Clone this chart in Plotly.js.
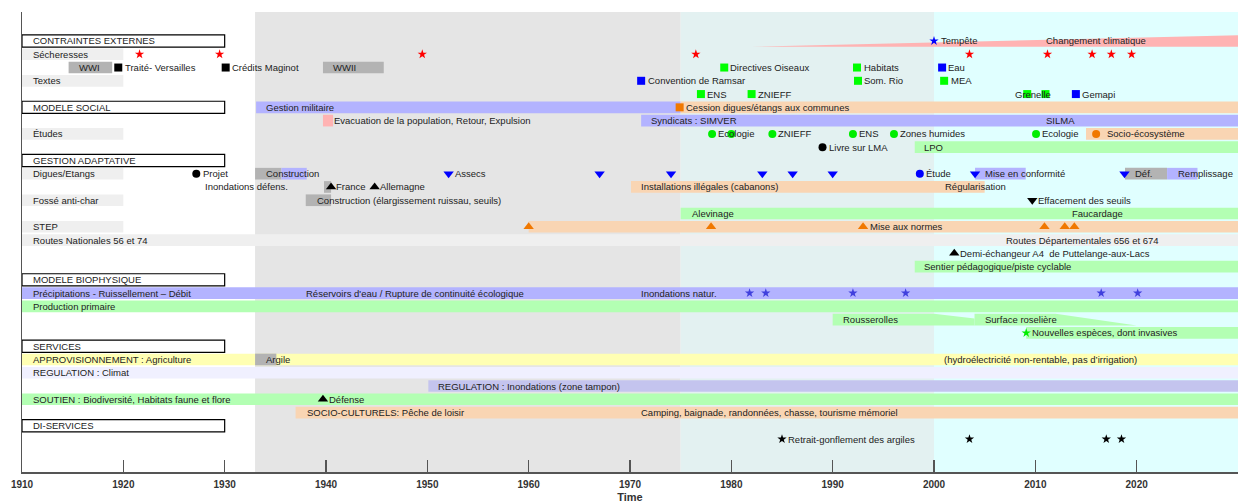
<!DOCTYPE html>
<html><head><meta charset="utf-8">
<script src="https://cdn.plot.ly/plotly-3.0.1.min.js"></script>
<style>html,body{margin:0;padding:0;background:#fff}#chart{width:1245px;height:503px}</style>
</head><body><div id="chart"></div>
<script>
// ================= DATA =================
// background periods
const periodStarts = [1933, 1975, 2000];
const periodEnds   = [1975, 2000, 2030];
const periodKinds  = ['militaire', 'transition', 'recent'];

// section header rows
const sectionRows  = [1, 6, 10, 19, 24, 30];
const sectionStart = 1910;
const sectionEnd   = 1930;

// bars: row, start year, end year, kind
const barRows   = [2, 4, 8, 11, 13, 15,
  3, 3, 6, 6, 7, 7, 8, 9, 11, 11, 11, 11, 11, 12, 12, 13, 14, 15, 16, 18, 20, 21, 23, 25, 25, 26, 27, 28, 29];
const barStarts = [1910, 1910, 1910, 1910, 1910, 1910,
  1914.6, 1939.7, 1933.1, 1975, 1939.7, 1971.1, 2015, 1998.1, 1933, 1935.6, 2004.05, 2018.85, 2023, 1939.8, 1970.1, 1938, 1975, 1960, 1910, 1998.1, 1910, 1910, 2009.1, 1910, 1933, 1910, 1950.1, 1910, 1937];
const barEnds   = [1920, 1920, 1920, 1920, 1920, 1920,
  1918.9, 1945.7, 1975, 2030, 1940.7, 2030, 2030, 2030, 1935.6, 1938.1, 2009.05, 2023, 2026, 1940.5, 2005, 1940.5, 2030, 2030, 2030, 2030, 2030, 2030, 2030, 2030, 1935.1, 2030, 2030, 2030, 2030];
const barKinds  = ['etiquette', 'etiquette', 'etiquette', 'etiquette', 'etiquette', 'etiquette',
  'guerre', 'guerre', 'gestion', 'social', 'evacuation', 'gestion', 'social', 'nature', 'guerre', 'gestion', 'gestion', 'guerre', 'gestion', 'guerre', 'social', 'guerre', 'nature', 'social', 'etiquette', 'nature', 'gestion', 'nature', 'nature', 'appro', 'guerre', 'climat', 'regulation', 'nature', 'social'];

// trend shapes (level 1 = full band, 0 = bottom of band)
const climatRow = 1;
const climatYears = [1982, 2030, 2030];
const climatLevel = [0, 0, 1];
const rousserollesRow = 22;
const rousserollesYears = [1990, 2000, 2004, 2004, 1990];
const rousserollesLevel = [1, 1, 0.6, 0, 0];
const roseliereYears = [2004, 2012, 2020, 2004];
const roseliereLevel = [1, 1, 0, 0];

// point events: row, year, kind
const eventRows  = [1,
  2, 2, 2, 2, 2, 2, 2, 2, 2,
  3, 3, 3, 3, 3,
  4, 4, 4,
  5, 5, 5, 5, 5,
  6,
  8, 8, 8, 8, 8, 8, 8,
  9,
  11, 11, 11, 11, 11, 11, 11, 11, 11, 11,
  12, 12,
  13,
  15, 15, 15, 15, 15, 15,
  17,
  20, 20, 20, 20, 20, 20,
  23,
  28,
  31, 31, 31, 31];
const eventYears = [2000,
  1921.6, 1929.5, 1949.5, 1976.5, 2003.5, 2011.2, 2015.6, 2017.5, 2019.5,
  1919.5, 1930.1, 1979.3, 1992.4, 2000.8,
  1971.1, 1992.5, 2001.0,
  1977.0, 1982.0, 2009.2, 2011.0, 2014.0,
  1974.9,
  1978.1, 1980.0, 1984.05, 1992.0, 1996.05, 2010.07, 2016.0,
  1989.0,
  1927.2, 1952.1, 1967.0, 1974.05, 1983.06, 1986.05, 1990.0, 1998.6, 2004.05, 2018.8,
  1940.5, 1944.8,
  2009.7,
  1960.0, 1978.0, 1993.0, 2010.9, 2012.9, 2013.85,
  2002.0,
  1981.8, 1983.4, 1992.0, 1997.2, 2016.5, 2020.1,
  2009.1,
  1939.7,
  1985.0, 2003.5, 2017.0, 2018.5];
const eventKinds = ['tempete',
  'secheresse', 'secheresse', 'secheresse', 'secheresse', 'secheresse', 'secheresse', 'secheresse', 'secheresse', 'secheresse',
  'texteHist', 'texteHist', 'texteEnv', 'texteEnv', 'texteEau',
  'texteEau', 'texteEnv', 'texteEnv',
  'texteEnv', 'texteEnv', 'texteEnv', 'texteEnv', 'texteEau',
  'cession',
  'etude', 'etude', 'etude', 'etude', 'etude', 'etude', 'etudeSocio',
  'livre',
  'projet', 'assec', 'assec', 'assec', 'assec', 'assec', 'assec', 'etudeDigue', 'assec', 'assec',
  'militaire', 'militaire',
  'effacement',
  'step', 'step', 'step', 'step', 'step', 'step',
  'echangeur',
  'crue', 'crue', 'crue', 'crue', 'crue', 'crue',
  'invasive',
  'militaire',
  'argile', 'argile', 'argile', 'argile'];

// text labels: row, year where the text starts, label
const textRows = [1, 1, 1, 2,
  3, 3, 3, 3, 3, 3, 3,
  4, 4, 4, 4,
  5, 5, 5, 5,
  6, 6, 6,
  7, 7, 7,
  8, 8, 8, 8, 8, 8, 8,
  9, 9,
  10,
  11, 11, 11, 11, 11, 11, 11, 11,
  12, 12, 12, 12, 12,
  13, 13, 13,
  14, 14,
  15, 15,
  16, 16,
  17, 18, 19,
  20, 20, 20,
  21, 22, 22, 23, 24,
  25, 25, 25,
  26, 27, 28, 28, 29, 29, 30, 31];
const textYears = [1911.1, 2000.66, 2011.05, 1911.1,
  1915.6, 1920.2, 1930.7, 1940.7, 1979.9, 1993.06, 2001.4,
  1911.1, 1971.8, 1993.1, 2001.65,
  1977.6, 1982.6, 2008.0, 2014.6,
  1911.1, 1934.05, 1975.5,
  1940.8, 1972.1, 2011.1,
  1911.1, 1978.65, 1984.6, 1992.6, 1996.65, 2010.65, 2017.05,
  1989.6, 1999.05,
  1911.1,
  1911.1, 1927.9, 1934.05, 1952.7, 1999.2, 2005.0, 2019.8, 2024.05,
  1928.06, 1940.96, 1945.35, 1971.05, 2001.05,
  1911.1, 1939.08, 2010.3,
  1976.1, 2013.6,
  1911.1, 1993.65,
  1911.1, 2007.1,
  2002.6, 1999.05, 1911.1,
  1911.1, 1938.06, 1971.05,
  1911.1, 1991.05, 2005.06, 2009.65, 1911.1,
  1911.1, 1934.05, 2001.0,
  1911.1, 1951.08, 1911.1, 1940.3, 1938.1, 1971.05, 1911.1, 1985.6];
const textLabels = ['CONTRAINTES EXTERNES', 'Tempête', 'Changement climatique', 'Sécheresses',
  'WWI', 'Traité- Versailles', 'Crédits Maginot', 'WWII', 'Directives Oiseaux', 'Habitats', 'Eau',
  'Textes', 'Convention de Ramsar', 'Som. Rio', 'MEA',
  'ENS', 'ZNIEFF', 'Grenelle', 'Gemapi',
  'MODELE SOCIAL', 'Gestion militaire', 'Cession digues/étangs aux communes',
  'Evacuation de la population, Retour, Expulsion', 'Syndicats : SIMVER', 'SILMA',
  'Études', 'Ecologie', 'ZNIEFF', 'ENS', 'Zones humides', 'Ecologie', 'Socio-écosystème',
  'Livre sur LMA', 'LPO',
  'GESTION ADAPTATIVE',
  'Digues/Etangs', 'Projet', 'Construction', 'Assecs', 'Étude', 'Mise en conformité', 'Déf.', 'Remplissage',
  'Inondations défens.', 'France', 'Allemagne', 'Installations illégales (cabanons)', 'Régularisation',
  'Fossé anti-char', 'Construction (élargissement ruissau, seuils)', 'Effacement des seuils',
  'Alevinage', 'Faucardage',
  'STEP', 'Mise aux normes',
  'Routes Nationales 56 et 74', 'Routes Départementales 656 et 674',
  'Demi-échangeur A4  de Puttelange-aux-Lacs', 'Sentier pédagogique/piste cyclable', 'MODELE BIOPHYSIQUE',
  'Précipitations - Ruissellement – Débit', "Réservoirs d'eau / Rupture de continuité écologique", 'Inondations natur.',
  'Production primaire', 'Rousserolles', 'Surface roselière', 'Nouvelles espèces, dont invasives', 'SERVICES',
  'APPROVISIONNEMENT : Agriculture', 'Argile', '(hydroélectricité non-rentable, pas d’irrigation)',
  'REGULATION : Climat', 'REGULATION : Inondations (zone tampon)', 'SOUTIEN : Biodiversité, Habitats faune et flore', 'Défense',
  'SOCIO-CULTURELS: Pêche de loisir', 'Camping, baignade, randonnées, chasse, tourisme mémoriel', 'DI-SERVICES', 'Retrait-gonflement des argiles'];

const xTicks = [1910, 1920, 1930, 1940, 1950, 1960, 1970, 1980, 1990, 2000, 2010, 2020, 2030];

// ================= STYLE =================
const FONT = 'Liberation Sans, Arial, Helvetica, sans-serif';
const BAND = 0.88;
const periodColor = {militaire: '#e5e5e5', transition: '#e3f1f1', recent: '#e0ffff'};
const barColor = {
  etiquette: '#efefef', guerre: '#b3b3b3', gestion: '#b3b3ff', social: '#f9d5b3',
  evacuation: '#ffb3b3', nature: '#b3ffb3', appro: '#ffffb3', climat: '#f0f0ff', regulation: '#c4c4ee'
};
const eventStyle = {
  tempete:    {symbol: 'star', color: '#0000ff', size: 7},
  secheresse: {symbol: 'star', color: '#ff0000', size: 7},
  texteHist:  {symbol: 'square', color: '#000000', size: 8},
  texteEnv:   {symbol: 'square', color: '#00ff00', size: 8},
  texteEau:   {symbol: 'square', color: '#0000ff', size: 8},
  cession:    {symbol: 'square', color: '#f07800', size: 8},
  etude:      {symbol: 'circle', color: '#00ee00', size: 8},
  etudeSocio: {symbol: 'circle', color: '#f07800', size: 8},
  livre:      {symbol: 'circle', color: '#000000', size: 8},
  projet:     {symbol: 'circle', color: '#000000', size: 8},
  etudeDigue: {symbol: 'circle', color: '#0000ff', size: 8},
  assec:      {symbol: 'triangle-down', color: '#0000ff', size: 9},
  militaire:  {symbol: 'triangle-up', color: '#000000', size: 9},
  effacement: {symbol: 'triangle-down', color: '#000000', size: 9},
  step:       {symbol: 'triangle-up', color: '#f07800', size: 9},
  echangeur:  {symbol: 'triangle-up', color: '#000000', size: 9},
  crue:       {symbol: 'star', color: '#4040dd', size: 7},
  invasive:   {symbol: 'star', color: '#00ee00', size: 7},
  argile:     {symbol: 'star', color: '#000000', size: 7}
};

// ================= BUILD =================
const traces = [];
traces.push({
  type: 'bar', orientation: 'h',
  y: barRows, base: barStarts, x: barEnds.map((e, i) => e - barStarts[i]),
  width: BAND, marker: {color: barKinds.map(k => barColor[k]), line: {width: 0}},
  hoverinfo: 'skip', showlegend: false
});
traces.push({
  type: 'bar', orientation: 'h',
  y: sectionRows, base: sectionRows.map(() => sectionStart), x: sectionRows.map(() => sectionEnd - sectionStart),
  width: 0.92, marker: {color: '#ffffff', line: {width: 1.2, color: '#000000'}},
  hoverinfo: 'skip', showlegend: false
});
function bandY(row, levels) { return levels.map(l => row + BAND / 2 - l * BAND); }
function poly(xs, ys, color) {
  traces.push({type: 'scatter', mode: 'lines', x: xs, y: ys, fill: 'toself', fillcolor: color,
    line: {width: 0, color: color}, hoverinfo: 'skip', showlegend: false});
}
poly(climatYears, bandY(climatRow, climatLevel), barColor.evacuation);
poly(rousserollesYears, bandY(rousserollesRow, rousserollesLevel), barColor.nature);
poly(roseliereYears, bandY(rousserollesRow, roseliereLevel), barColor.nature);

Object.keys(eventStyle).forEach(k => {
  const idx = eventKinds.map((kk, i) => kk === k ? i : -1).filter(i => i >= 0);
  if (!idx.length) return;
  const s = eventStyle[k];
  traces.push({type: 'scatter', mode: 'markers', x: idx.map(i => eventYears[i]), y: idx.map(i => eventRows[i]),
    marker: {symbol: s.symbol, color: s.color, size: s.size, line: {width: 0}},
    hoverinfo: 'skip', showlegend: false, cliponaxis: false});
});

const annotations = textLabels.map((t, i) => ({
  x: textYears[i], y: textRows[i], xref: 'x', yref: 'y', text: t, showarrow: false,
  xanchor: 'left', yanchor: 'middle', borderpad: 0, xshift: -1,
  font: {family: FONT, size: 9.5, color: '#222222'}
}));

const shapes = periodStarts.map((s, i) => ({
  type: 'rect', xref: 'x', yref: 'paper', x0: s, x1: periodEnds[i], y0: 0, y1: 1,
  fillcolor: periodColor[periodKinds[i]], line: {width: 0}, layer: 'below'
}));

const layout = {
  width: 1245, height: 503,
  margin: {l: 22, r: 7, t: 12, b: 31, pad: 0},
  paper_bgcolor: '#ffffff', plot_bgcolor: '#ffffff',
  barmode: 'overlay', showlegend: false,
  font: {family: FONT, size: 10, color: '#222'},
  xaxis: {
    range: [1910, 2030], tickvals: xTicks, ticktext: xTicks.map(String),
    showgrid: false, zeroline: false, showline: true, linecolor: '#555555', linewidth: 1.5,
    ticks: 'inside', ticklen: 12, tickwidth: 1.5, tickcolor: '#555555',
    ticklabelstandoff: 2,
    tickfont: {family: FONT, size: 10, color: '#333333', weight: 'bold'},
    title: {text: 'Time', font: {family: FONT, size: 11, color: '#333333', weight: 'bold'}, standoff: 5},
    fixedrange: true
  },
  yaxis: {
    range: [33.48, -1.185], showgrid: false, zeroline: false, showticklabels: false, ticks: '',
    showline: true, linecolor: '#555555', linewidth: 1.5, fixedrange: true
  },
  shapes: shapes,
  annotations: annotations
};

Plotly.newPlot('chart', traces, layout, {displayModeBar: false, staticPlot: true});
</script>
</body></html>
